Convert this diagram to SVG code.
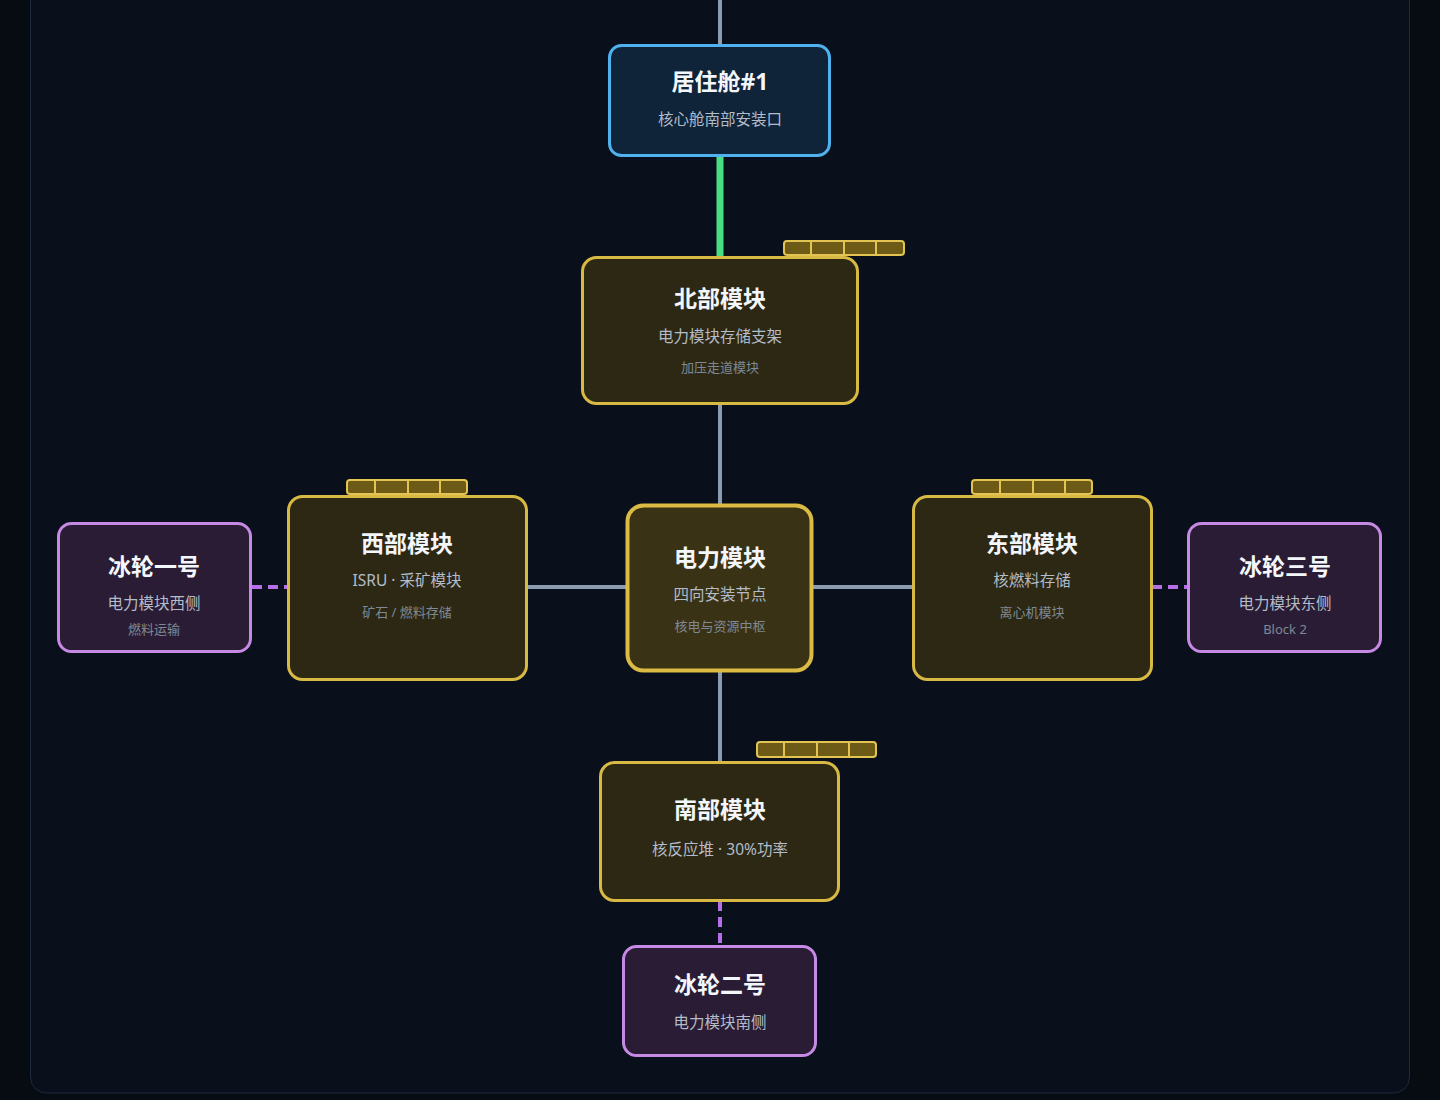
<svg xmlns="http://www.w3.org/2000/svg" width="1440" height="1100" viewBox="0 0 1440 1100">
<style>
text{font-family:"Noto Sans","Noto Sans CJK SC",sans-serif;text-anchor:middle}
.t{font-size:23px;font-weight:700;fill:#f3f6fa}
.s{font-size:15.5px;fill:#b3bcc8}
.s2{font-size:13px;fill:#7f8995}
.gold{fill:#2c2814;stroke:#d8b944;stroke-width:3}
.pur{fill:#2a1c34;stroke:#c689e4;stroke-width:3}
.bar{fill:#6e5a17;stroke:#e3c452;stroke-width:2}
.div{stroke:#e3c452;stroke-width:2}
.g{stroke:#8d9bb0;stroke-width:4;fill:none}
.d{stroke:#b76ee6;stroke-width:4;fill:none;stroke-dasharray:10 6}
</style>
<rect x="0" y="0" width="1440" height="1100" fill="#070b12"/>
<rect x="30.5" y="-20" width="1379" height="1113" rx="16" fill="#09101c" stroke="#1f2a3b" stroke-width="1"/>
<g id="connectors">
<line class="g" x1="720" y1="0" x2="720" y2="46"/>
<line x1="720" y1="156" x2="720" y2="258" stroke="#4ade80" stroke-width="7"/>
<line class="g" x1="720" y1="404" x2="720" y2="506"/>
<line class="g" x1="720" y1="670" x2="720" y2="763"/>
<line class="g" x1="526" y1="587" x2="628" y2="587"/>
<line class="g" x1="811" y1="587" x2="914" y2="587"/>
<line class="d" x1="252" y1="587" x2="288" y2="587"/>
<line class="d" x1="1152" y1="587" x2="1188" y2="587"/>
<line class="d" x1="720" y1="901" x2="720" y2="946"/>
</g>
<g id="hab1">
<rect x="609.5" y="45.5" width="220" height="110" rx="12" fill="#0f2339" stroke="#4fb1ee" stroke-width="3"/>
<text class="t" x="720" y="90">居住舱#1</text>
<text class="s" x="720" y="125">核心舱南部安装口</text>
</g>
<g id="north">
<rect class="gold" x="582.5" y="257.5" width="275" height="146" rx="14"/>
<rect class="bar" x="784" y="241" width="120" height="14" rx="3"/>
<line class="div" x1="811" y1="241" x2="811" y2="255"/><line class="div" x1="844" y1="241" x2="844" y2="255"/><line class="div" x1="876" y1="241" x2="876" y2="255"/>
<text class="t" x="720" y="307">北部模块</text>
<text class="s" x="720" y="342">电力模块存储支架</text>
<text class="s2" x="720" y="372">加压走道模块</text>
</g>
<g id="center">
<rect x="627.5" y="505.5" width="184" height="165" rx="16" fill="#3a3215" stroke="#dcbb44" stroke-width="4"/>
<text class="t" x="720" y="566">电力模块</text>
<text class="s" x="720" y="600">四向安装节点</text>
<text class="s2" x="720" y="631">核电与资源中枢</text>
</g>
<g id="west">
<rect class="gold" x="288.5" y="496.5" width="238" height="183" rx="14"/>
<rect class="bar" x="347" y="480" width="120" height="14" rx="3"/>
<line class="div" x1="375" y1="480" x2="375" y2="494"/><line class="div" x1="408" y1="480" x2="408" y2="494"/><line class="div" x1="440" y1="480" x2="440" y2="494"/>
<text class="t" x="407" y="552">西部模块</text>
<text class="s" x="407" y="586">ISRU · 采矿模块</text>
<text class="s2" x="407" y="617">矿石 / 燃料存储</text>
</g>
<g id="east">
<rect class="gold" x="913.5" y="496.5" width="238" height="183" rx="14"/>
<rect class="bar" x="972" y="480" width="120" height="14" rx="3"/>
<line class="div" x1="1000" y1="480" x2="1000" y2="494"/><line class="div" x1="1033" y1="480" x2="1033" y2="494"/><line class="div" x1="1065" y1="480" x2="1065" y2="494"/>
<text class="t" x="1032" y="552">东部模块</text>
<text class="s" x="1032" y="586">核燃料存储</text>
<text class="s2" x="1032" y="617">离心机模块</text>
</g>
<g id="south">
<rect class="gold" x="600.5" y="762.5" width="238" height="138" rx="14"/>
<rect class="bar" x="757" y="742" width="119" height="15" rx="3"/>
<line class="div" x1="784" y1="742" x2="784" y2="757"/><line class="div" x1="817" y1="742" x2="817" y2="757"/><line class="div" x1="849" y1="742" x2="849" y2="757"/>
<text class="t" x="720" y="818">南部模块</text>
<text class="s" x="720" y="855">核反应堆 · 30%功率</text>
</g>
<g id="ice1">
<rect class="pur" x="58.5" y="523.5" width="192" height="128" rx="13"/>
<text class="t" x="154" y="575">冰轮一号</text>
<text class="s" x="154" y="609">电力模块西侧</text>
<text class="s2" x="154" y="634">燃料运输</text>
</g>
<g id="ice3">
<rect class="pur" x="1188.5" y="523.5" width="192" height="128" rx="13"/>
<text class="t" x="1285" y="575">冰轮三号</text>
<text class="s" x="1285" y="609">电力模块东侧</text>
<text class="s2" x="1285" y="634">Block 2</text>
</g>
<g id="ice2">
<rect class="pur" x="623.5" y="946.5" width="192" height="109" rx="13"/>
<text class="t" x="720" y="993">冰轮二号</text>
<text class="s" x="720" y="1028">电力模块南侧</text>
</g>
</svg>
